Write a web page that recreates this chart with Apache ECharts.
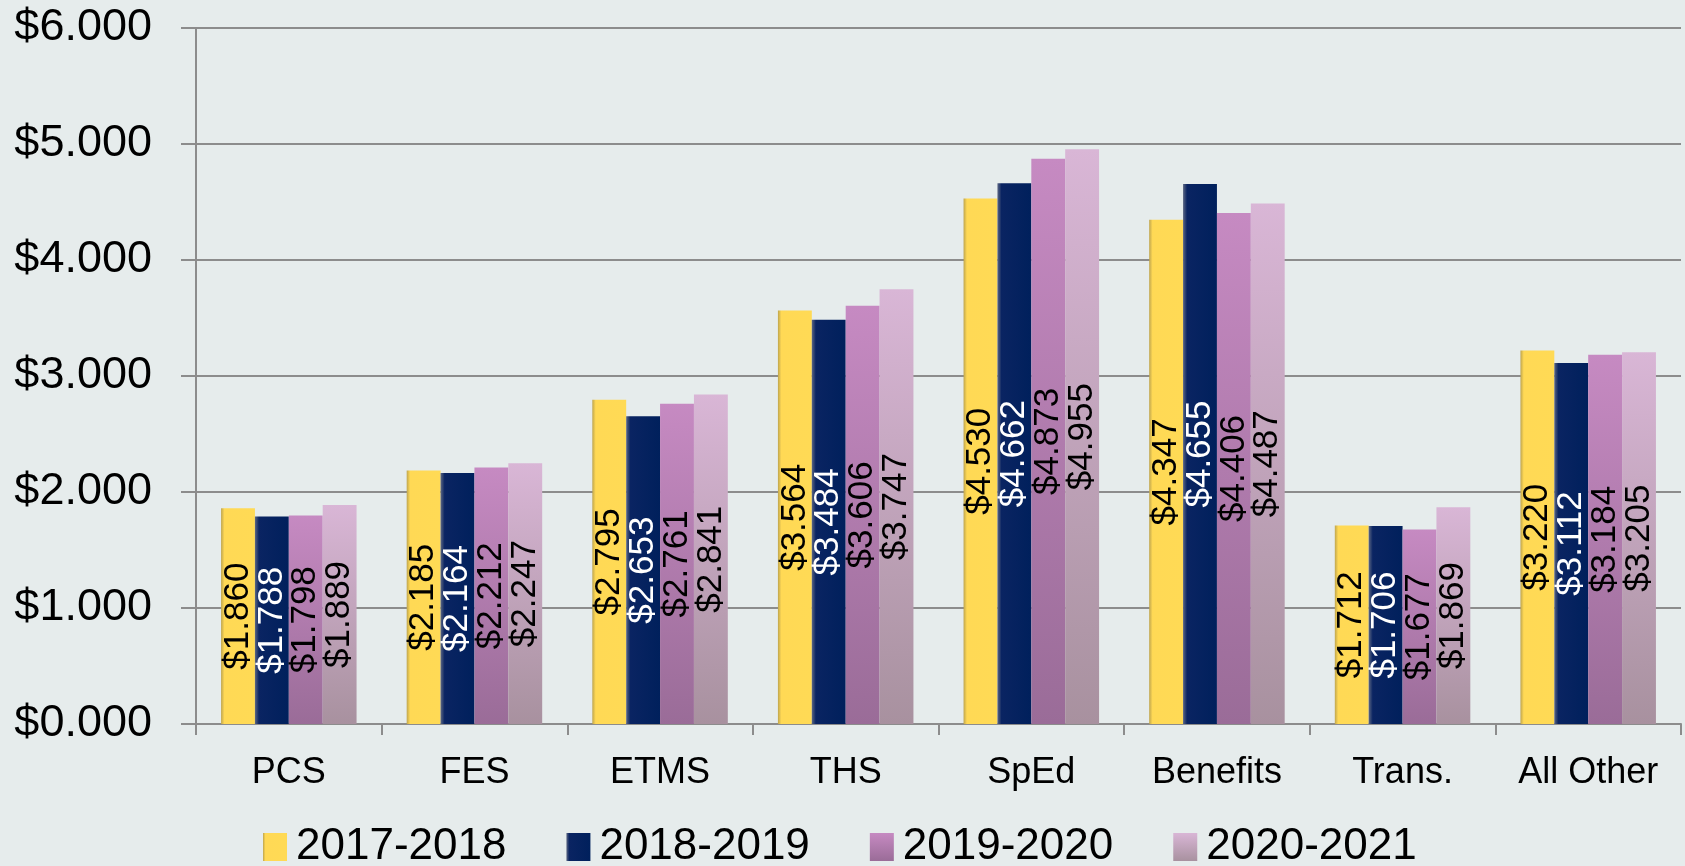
<!DOCTYPE html>
<html><head><meta charset="utf-8">
<script src="https://cdn.jsdelivr.net/npm/echarts@6/dist/echarts.min.js"></script>
<style>html,body{margin:0;padding:0;background:#E6ECEC;}#c{width:1685px;height:866px;}</style>
</head><body><div id="c"></div>
<script>
const categories = ['PCS','FES','ETMS','THS','SpEd','Benefits','Trans.','All Other'];
const seriesNames = ['2017-2018','2018-2019','2019-2020','2020-2021'];
const v2017 = [1.860, 2.185, 2.795, 3.564, 4.530, 4.347, 1.712, 3.220];
const v2018 = [1.788, 2.164, 2.653, 3.484, 4.662, 4.655, 1.706, 3.112];
const v2019 = [1.798, 2.212, 2.761, 3.606, 4.873, 4.406, 1.677, 3.184];
const v2020 = [1.889, 2.247, 2.841, 3.747, 4.955, 4.487, 1.869, 3.205];
const yTicks = [0,1,2,3,4,5,6];

const FONT = '"Liberation Sans", Arial, sans-serif';
function lg(x0,y0,x2,y2,stops){return new echarts.graphic.LinearGradient(x0,y0,x2,y2,stops.map((c,i)=>({offset:c[0],color:c[1]})));}
const colors = [
  lg(0,0,1,0,[[0,'#BFA54E'],[0.1,'#FFD955'],[1,'#FFDA55']]),
  lg(0,0,1,0,[[0,'#5B6683'],[0.12,'#0A2462'],[1,'#00205C']]),
  lg(0,0,0,1,[[0,'#C68AC2'],[1,'#9A6C98']]),
  lg(0,0,0,1,[[0,'#D9B6D6'],[1,'#A8919F']])
];
const labelColors = ['#000','#fff','#000','#000'];
const data = [v2017, v2018, v2019, v2020];

const chart = echarts.init(document.getElementById('c'));
chart.setOption({
  backgroundColor: '#E6ECEC',
  animation: false,
  textStyle: {fontFamily: FONT},
  grid: {left: 196, right: 4, top: 28, bottom: 142, containLabel: false},
  legend: {
    data: seriesNames, left: 258, top: 820, itemWidth: 24, itemHeight: 28, itemGap: 60,
    icon: 'rect',
    textStyle: {fontFamily: FONT, fontSize: 44, color: '#000', padding: [0,0,0,4]}
  },
  xAxis: {
    type: 'category', data: categories,
    axisLine: {lineStyle: {color: '#8c8c8c', width: 2}},
    axisTick: {show: true, interval: 0, length: 11, lineStyle: {color: '#8c8c8c', width: 2}},
    axisLabel: {interval: 0, fontFamily: FONT, fontSize: 36, color: '#000', margin: 31}
  },
  yAxis: {
    type: 'value', min: yTicks[0], max: yTicks[yTicks.length-1], interval: 1,
    axisLine: {show: true, lineStyle: {color: '#8c8c8c', width: 2}},
    axisTick: {show: true, length: 15, lineStyle: {color: '#8c8c8c', width: 2}},
    splitLine: {lineStyle: {color: '#8c8c8c', width: 2}},
    axisLabel: {fontFamily: FONT, fontSize: 45, color: '#000', margin: 44,
      formatter: v => '$' + v.toFixed(3)}
  },
  series: seriesNames.map((n,i)=>({
    name: n, type: 'bar', data: data[i],
    barGap: '0%', barCategoryGap: '27%',
    itemStyle: {color: colors[i]},
    label: {show: true, position: 'inside', rotate: 90, fontFamily: FONT, fontSize: 35,
      color: labelColors[i], formatter: p => '$' + p.value.toFixed(3)}
  }))
});
</script></body></html>
